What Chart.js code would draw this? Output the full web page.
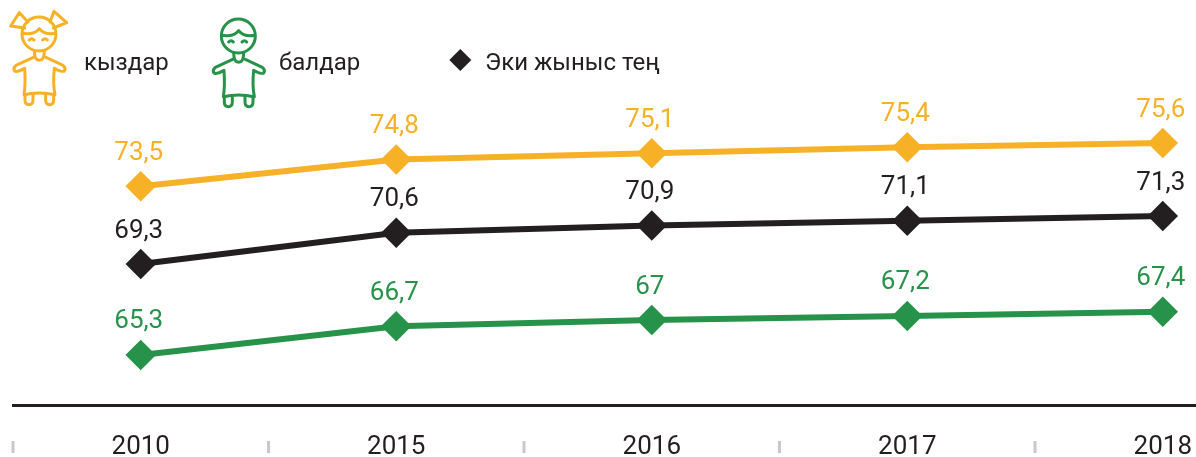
<!DOCTYPE html>
<html>
<head>
<meta charset="utf-8">
<script src="https://cdn.jsdelivr.net/npm/chart.js@4"></script>
<style>
  html, body { margin: 0; padding: 0; background: #fff; }
  #wrap { position: relative; width: 1196px; height: 457px; overflow: hidden; font-family: Roboto, sans-serif; }
  #chart { position: absolute; left: 0; top: 0; }
  #icons { position: absolute; left: 0; top: 0; }
  .lg { position: absolute; top: 47px; font-size: 24px; line-height: 30px; color: #231f20; }
</style>
</head>
<body>
<div id="wrap">
  <canvas id="chart" width="1196" height="457"></canvas>
  <svg id="icons" width="500" height="120" viewBox="0 0 1500 360" fill="none" stroke-width="9" stroke-linecap="round" stroke-linejoin="round">
    <defs>
      <g id="kid">
        <circle cx="117" cy="102" r="51"/>
        <path d="M68 100 C90 104 106 100 118 86 C130 100 146 104 166 100"/>
        <path d="M88 120 q7 -8 14 0 M128 120 q7 -8 14 0"/>
        <path d="M103 153 q0 28 15 28 q15 0 15 -28"/>
        <path d="M100 172 L48 196 q-10 8 -4 17 q6 5 30 -8 C76 235 76 260 72 284 C100 278 135 278 165 284 C160 260 160 235 163 205 q26 13 30 8 q6 -9 -4 -17 L138 172"/>
        <path d="M75 286 v14 q0 14 12 14 q12 0 12 -14 v-14 M137 286 v14 q0 14 12 14 q12 0 12 -14 v-14"/>
      </g>
    </defs>
    <g stroke="#f7b127">
      <use href="#kid"/>
      <path d="M84 66 L58 38 L32 78 L74 84 M150 66 L162 34 L200 68 L160 84"/>
    </g>
    <g stroke="#27924a" transform="translate(598 6)">
      <use href="#kid"/>
    </g>
    <path d="M1381 147 L1414 180 L1381 213 L1348 180 Z" fill="#231f20" stroke="none"/>
  </svg>
  <div class="lg" style="left:84px">кыздар</div>
  <div class="lg" style="left:279px">балдар</div>
  <div class="lg" style="left:485px">Эки жыныс тең</div>
</div>
<script>
// データ
const years = ["2010", "2015", "2016", "2017", "2018"];
const girls = [73.5, 74.8, 75.1, 75.4, 75.6];
const both = [69.3, 70.6, 70.9, 71.1, 71.3];
const boys = [65.3, 66.7, 67, 67.2, 67.4];

const colors = { girls: "#f7b127", both: "#231f20", boys: "#27924a" };

function toPoints(values) {
  return values.map((v, i) => ({ x: i, y: v }));
}

function makeDataset(label, values, color, axis) {
  return {
    label: label,
    data: toPoints(values),
    yAxisID: axis,
    borderColor: color,
    backgroundColor: color,
    borderWidth: 6,
    pointStyle: "rectRot",
    pointRadius: 11,
    pointHoverRadius: 11,
    tension: 0,
  };
}

// 値ラベル
const valueLabels = {
  id: "valueLabels",
  afterDatasetsDraw(chart) {
    const ctx = chart.ctx;
    ctx.save();
    ctx.font = "26px Roboto";
    ctx.textAlign = "center";
    ctx.textBaseline = "middle";
    chart.data.datasets.forEach((ds, d) => {
      ctx.fillStyle = ds.borderColor;
      chart.getDatasetMeta(d).data.forEach((pt, i) => {
        ctx.fillText(String(ds.data[i].y).replace(".", ","), pt.x - 2, pt.y - 33);
      });
    });
    ctx.restore();
  },
};

// 軸の下の区切り
const separators = {
  id: "separators",
  afterDraw(chart) {
    const ctx = chart.ctx;
    const xs = chart.scales.x;
    ctx.save();
    ctx.strokeStyle = "#c8c8cc";
    ctx.lineWidth = 3;
    years.forEach((y, i) => {
      const px = xs.getPixelForValue(i - 0.5);
      ctx.beginPath();
      ctx.moveTo(px, 441);
      ctx.lineTo(px, 453);
      ctx.stroke();
    });
    ctx.restore();
  },
};

new Chart(document.getElementById("chart"), {
  type: "line",
  data: {
    datasets: [
      makeDataset("кыздар", girls, colors.girls, "y"),
      makeDataset("Эки жыныс тең", both, colors.both, "y2"),
      makeDataset("балдар", boys, colors.boys, "y"),
    ],
  },
  options: {
    responsive: false,
    animation: false,
    layout: { autoPadding: false, padding: { left: 13, right: 0, top: 0, bottom: 0 } },
    plugins: { legend: { display: false }, tooltip: { enabled: false } },
    scales: {
      x: {
        type: "linear",
        min: -0.5,
        max: 4.13,
        afterBuildTicks(axis) {
          axis.ticks = years.map((y, i) => ({ value: i }));
        },
        afterFit(axis) {
          axis.height = 52;
          axis.paddingLeft = 0;
          axis.paddingRight = 0;
        },
        grid: { display: false, drawTicks: false },
        border: { display: true, color: "#231f20", width: 3 },
        ticks: {
          autoSkip: false,
          maxRotation: 0,
          padding: 29,
          color: "#231f20",
          font: { family: "Roboto", size: 26, lineHeight: 1 },
          callback: (value) => years[value],
        },
      },
      y: { display: false, min: 62.87, max: 82.55 },
      y2: { display: false, min: 63.425, max: 80.3 },
    },
  },
  plugins: [valueLabels, separators],
});
</script>
</body>
</html>
